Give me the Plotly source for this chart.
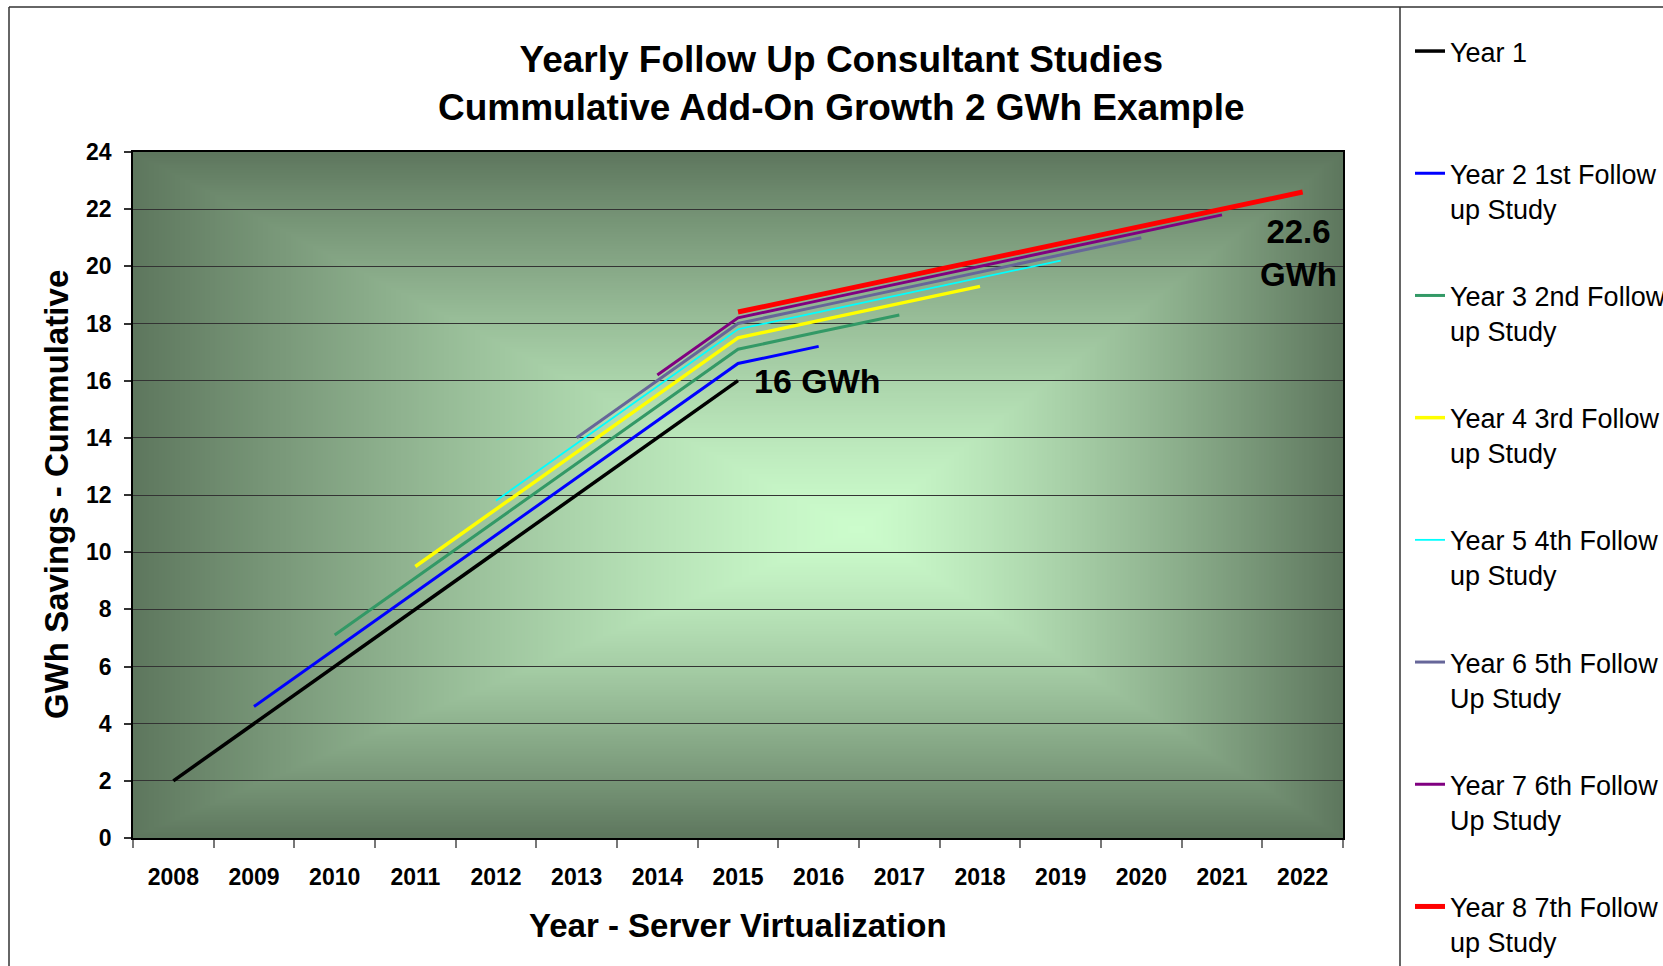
import base64, struct, zlib
import numpy as np
import plotly.graph_objects as go

# ---------------- data ----------------
years = [str(y) for y in range(2008, 2023)]
N = None
year1 = [2, 4, 6, 8, 10, 12, 14, 16, N, N, N, N, N, N, N]
year2 = [N, 4.6, 6.6, 8.6, 10.6, 12.6, 14.6, 16.6, 17.2, N, N, N, N, N, N]
year3 = [N, N, 7.1, 9.1, 11.1, 13.1, 15.1, 17.1, 17.7, 18.3, N, N, N, N, N]
year4 = [N, N, N, 9.5, 11.5, 13.5, 15.5, 17.5, 18.1, 18.7, 19.3, N, N, N, N]
year5 = [N, N, N, N, 11.8, 13.8, 15.8, 17.8, 18.4, 19.0, 19.6, 20.2, N, N, N]
year6 = [N, N, N, N, N, 14.0, 16.0, 18.0, 18.6, 19.2, 19.8, 20.4, 21.0, N, N]
year7 = [N, N, N, N, N, N, 16.2, 18.2, 18.8, 19.4, 20.0, 20.6, 21.2, 21.8, N]
year8 = [N, N, N, N, N, N, N, 18.4, 19.0, 19.6, 20.2, 20.8, 21.4, 22.0, 22.6]

series_names = [
    "Year 1<br> ",
    "Year 2 1st Follow<br>up Study",
    "Year 3 2nd Follow<br>up Study",
    "Year 4 3rd Follow<br>up Study",
    "Year 5 4th Follow<br>up Study",
    "Year 6 5th Follow<br>Up Study",
    "Year 7 6th Follow<br>Up Study",
    "Year 8 7th Follow<br>up Study",
]
series_values = [year1, year2, year3, year4, year5, year6, year7, year8]
series_colors = ["#000000", "#0000FF", "#339966", "#FFFF00", "#00FFFF",
                 "#666699", "#800080", "#FF0000"]
series_widths = [3.5, 3, 3, 3.5, 1.8, 3, 3, 5]

title_lines = ["Yearly Follow Up Consultant Studies",
               "Cummulative Add-On Growth 2 GWh Example"]
x_title = "Year - Server Virtualization"
y_title = "GWh Savings - Cummulative"
label_16 = ("2015", 16, "16 GWh")
label_226 = ("2022", 20.48, "22.6<br>GWh")

# ---------------- layout geometry (px) ----------------
W, H = 1663, 966
L, R, T, B = 133, 320, 152, 128
PW, PH = W - L - R, H - T - B


def px2paper_x(px):
    return (px - L) / PW


def px2paper_y(py):
    return (H - B - py) / PH


# ---------------- background gradient image ----------------
def gradient_png(w=480, h=280, cx=0.6, cy=0.55, gamma=1.3):
    xs = np.linspace(0, 1, w)
    ys = np.linspace(0, 1, h)
    X, Y = np.meshgrid(xs, ys)
    u = np.where(X < cx, (cx - X) / cx, (X - cx) / (1 - cx))
    v = np.where(Y < cy, (cy - Y) / cy, (Y - cy) / (1 - cy))
    t = np.clip(np.maximum(u, v), 0, 1) ** gamma
    light = np.array([204, 252, 204], float)
    dark = np.array([94, 119, 94], float)
    img = (light[None, None, :] * (1 - t[..., None]) + dark[None, None, :] * t[..., None])
    img = img.round().astype(np.uint8)
    raw = b"".join(b"\x00" + img[r].tobytes() for r in range(h))

    def chunk(tag, data):
        c = struct.pack(">I", len(data)) + tag + data
        return c + struct.pack(">I", zlib.crc32(tag + data) & 0xFFFFFFFF)

    png = (b"\x89PNG\r\n\x1a\n"
           + chunk(b"IHDR", struct.pack(">IIBBBBB", w, h, 8, 2, 0, 0, 0))
           + chunk(b"IDAT", zlib.compress(raw, 9))
           + chunk(b"IEND", b""))
    return "data:image/png;base64," + base64.b64encode(png).decode()


FONT = "Liberation Sans, Arial, sans-serif"

fig = go.Figure()
for i, (name, vals, col, lw) in enumerate(zip(series_names, series_values,
                                              series_colors, series_widths)):
    fig.add_trace(go.Scatter(
        x=years, y=vals, mode="lines", name=name,
        line=dict(color=col, width=lw),
        legendgroup=f"g{i}", hoverinfo="skip"))

fig.update_layout(
    width=W, height=H,
    margin=dict(l=L, r=R, t=T, b=B, autoexpand=False),
    paper_bgcolor="white",
    plot_bgcolor="rgba(0,0,0,0)",
    font=dict(family=FONT, color="black"),
    showlegend=True,
    legend=dict(
        xref="container", yref="container",
        x=1410 / W, y=1 - 27 / H, xanchor="left", yanchor="top",
        font=dict(family=FONT, size=27, color="black"),
        tracegroupgap=49, valign="top", maxheight=3000,
        bgcolor="rgba(0,0,0,0)", borderwidth=0,
        itemclick=False, itemdoubleclick=False,
    ),
    xaxis=dict(
        type="category", categoryorder="array", categoryarray=years,
        range=[-0.5, len(years) - 0.5],
        showgrid=False, zeroline=False,
        showline=True, linecolor="black", linewidth=1.5, mirror=True,
        ticks="outside", tickson="boundaries", ticklen=8, tickwidth=1.5,
        tickcolor="#777777",
        tickfont=dict(family=FONT, size=23, color="black", weight="bold"),
        ticklabelstandoff=18,
    ),
    yaxis=dict(
        range=[0, 24], dtick=2, tick0=0,
        showgrid=True, gridcolor="#333333", gridwidth=1.3,
        zeroline=False,
        showline=True, linecolor="black", linewidth=1.5, mirror=True,
        ticks="outside", ticklen=7, tickwidth=1.5, tickcolor="#333333",
        tickfont=dict(family=FONT, size=23, color="black", weight="bold"),
        ticklabelstandoff=8,
    ),
    images=[dict(
        source=gradient_png(), xref="paper", yref="paper",
        x=0, y=1, sizex=1, sizey=1, sizing="stretch",
        xanchor="left", yanchor="top", layer="below")],
)

annotations = [
    dict(text="<b>" + title_lines[0] + "<br>" + title_lines[1] + "</b>",
         xref="paper", yref="paper", x=px2paper_x(841), y=px2paper_y(84),
         xanchor="center", yanchor="middle", showarrow=False,
         font=dict(family=FONT, size=37, color="black")),
    dict(text="<b>" + x_title + "</b>", xref="paper", yref="paper",
         x=px2paper_x(738), y=px2paper_y(925), xanchor="center",
         yanchor="middle", showarrow=False,
         font=dict(family=FONT, size=33, color="black")),
    dict(text="<b>" + y_title + "</b>", xref="paper", yref="paper",
         x=px2paper_x(56), y=px2paper_y(495), xanchor="center",
         yanchor="middle", showarrow=False, textangle=-90,
         font=dict(family=FONT, size=33, color="black")),
    dict(text="<b>" + label_16[2] + "</b>", xref="x", yref="y",
         x=years.index(label_16[0]), y=label_16[1],
         xanchor="left", yanchor="middle", xshift=14, showarrow=False,
         font=dict(family=FONT, size=34, color="black")),
    dict(text="<b>" + label_226[2] + "</b>", xref="x", yref="y",
         x=years.index(label_226[0]), y=label_226[1],
         xanchor="center", yanchor="middle", xshift=-4, showarrow=False,
         font=dict(family=FONT, size=33, color="black")),
]
fig.update_layout(annotations=annotations)

# outer frame and legend panel border
frame_col = "#333333"
shapes = [
    dict(type="line", xref="paper", yref="paper",
         x0=px2paper_x(9), x1=px2paper_x(1700), y0=px2paper_y(7), y1=px2paper_y(7),
         line=dict(color=frame_col, width=1.5)),
    dict(type="line", xref="paper", yref="paper",
         x0=px2paper_x(9), x1=px2paper_x(9), y0=px2paper_y(7), y1=px2paper_y(1000),
         line=dict(color=frame_col, width=1.5)),
    dict(type="line", xref="paper", yref="paper",
         x0=px2paper_x(1400), x1=px2paper_x(1400), y0=px2paper_y(7), y1=px2paper_y(1000),
         line=dict(color=frame_col, width=1.5)),
]
fig.update_layout(shapes=shapes)

fig.write_html("out.html", config={"displayModeBar": False},
               post_script="document.body.style.margin='0';document.body.style.overflow='hidden';")
